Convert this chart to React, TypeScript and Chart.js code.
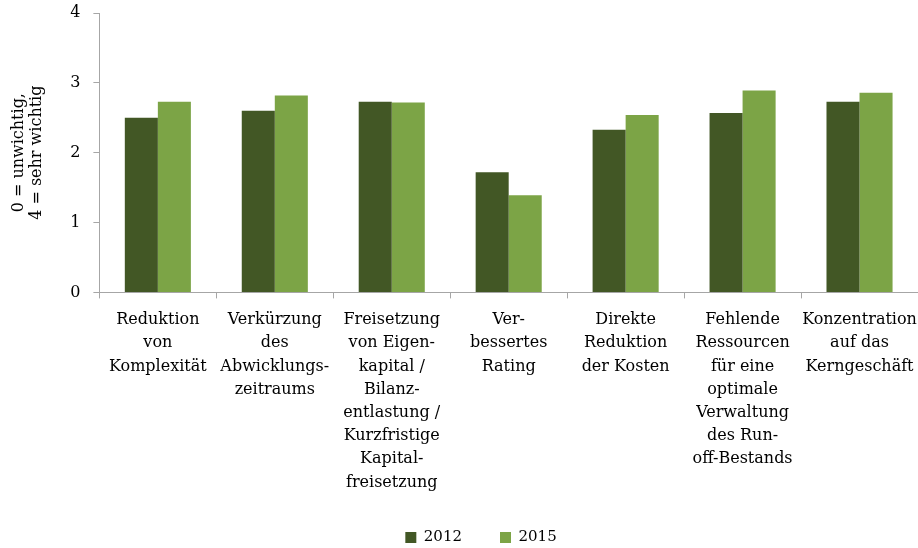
import React, { useEffect, useRef } from "react";
import { Chart, registerables } from "chart.js";

Chart.register(...registerables);

const categories: string[][] = [
  ["Reduktion", "von", "Komplexität"],
  ["Verkürzung", "des", "Abwicklungs-", "zeitraums"],
  ["Freisetzung", "von Eigen-", "kapital /", "Bilanz-", "entlastung /", "Kurzfristige", "Kapital-", "freisetzung"],
  ["Ver-", "bessertes", "Rating"],
  ["Direkte", "Reduktion", "der Kosten"],
  ["Fehlende", "Ressourcen", "für eine", "optimale", "Verwaltung", "des Run-", "off-Bestands"],
  ["Konzentration", "auf das", "Kerngeschäft"],
];

const values2012: number[] = [2.5, 2.6, 2.73, 1.72, 2.33, 2.57, 2.73];
const values2015: number[] = [2.73, 2.82, 2.72, 1.39, 2.54, 2.89, 2.86];

const yTitle: string[] = ["0 = unwichtig,", "4 = sehr wichtig"];
const seriesNames: string[] = ["2012", "2015"];

const FONT = "'DejaVu Serif', serif";
const AXIS_COLOR = "#a6a6a6";

const legendShift = {
  id: "legendShift",
  afterLayout(chart: any) {
    const lg = chart.legend;
    if (lg) {
      lg.left += 17;
      lg.right += 17;
      lg.top -= 12;
      lg.bottom -= 12;
    }
  },
};

export default function App() {
  const ref = useRef<HTMLCanvasElement | null>(null);

  useEffect(() => {
    if (!ref.current) return;
    const chart = new Chart(ref.current, {
      type: "bar",
      data: {
        labels: categories,
        datasets: [
          {
            label: seriesNames[0],
            data: values2012,
            backgroundColor: "#425725",
            borderWidth: 0,
            categoryPercentage: 0.565,
            barPercentage: 1,
          },
          {
            label: seriesNames[1],
            data: values2015,
            backgroundColor: "#7ca446",
            borderWidth: 0,
            categoryPercentage: 0.565,
            barPercentage: 1,
          },
        ],
      },
      options: {
        responsive: false,
        animation: false,
        layout: { padding: { top: 0, right: 0, left: 10, bottom: -19 } },
        plugins: {
          tooltip: { enabled: false },
          legend: {
            position: "bottom",
            labels: {
              boxWidth: 11,
              boxHeight: 11,
              padding: 38,
              color: "#000",
              font: { family: FONT, size: 15 },
            },
          },
        },
        scales: {
          x: {
            afterFit(scale: any) {
              scale.paddingRight = 0;
              scale.paddingLeft = 0;
            },
            grid: {
              display: true,
              drawOnChartArea: false,
              drawTicks: true,
              tickLength: 6,
              color: AXIS_COLOR,
              offset: true,
            },
            border: { display: true, color: AXIS_COLOR, width: 1 },
            ticks: {
              autoSkip: false,
              maxRotation: 0,
              minRotation: 0,
              padding: 10,
              color: "#000",
              font: { family: FONT, size: 16, lineHeight: 1.45 },
            },
          },
          y: {
            min: 0,
            max: 4,
            afterFit(scale: any) {
              scale.paddingTop = 13;
            },
            grid: {
              display: true,
              drawOnChartArea: false,
              drawTicks: true,
              tickLength: 6,
              color: AXIS_COLOR,
            },
            border: { display: true, color: AXIS_COLOR, width: 1 },
            ticks: {
              stepSize: 1,
              padding: 13,
              color: "#000",
              font: { family: FONT, size: 16, lineHeight: 1.0 },
            },
            title: {
              display: true,
              text: yTitle,
              color: "#000",
              padding: { top: 0, bottom: 12 },
              font: { family: FONT, size: 16, lineHeight: 1.1 },
            },
          },
        },
      },
      plugins: [legendShift],
    });
    return () => chart.destroy();
  }, []);

  return (
    <div style={{ position: "fixed", left: 0, top: 0, width: 918, height: 548, background: "#fff" }}>
      <canvas ref={ref} width={918} height={548} />
    </div>
  );
}
